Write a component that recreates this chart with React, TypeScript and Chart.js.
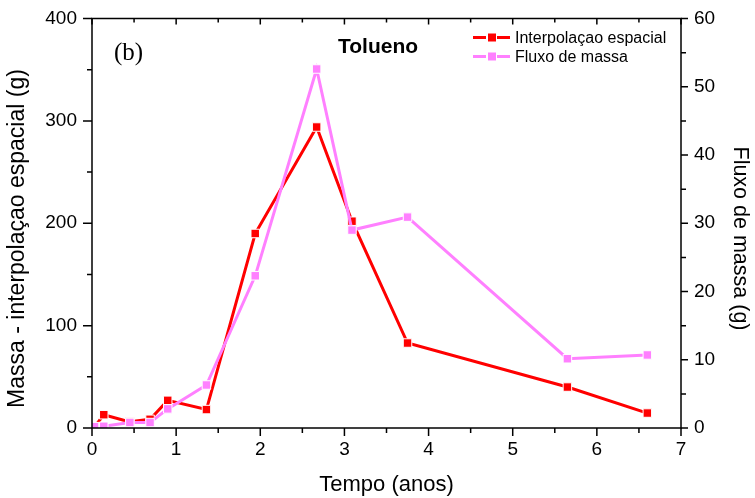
import { useEffect, useRef } from 'react';
import { Chart, registerables } from 'chart.js';

Chart.register(...registerables);

// Data
const tempoInterp = [0.03, 0.14, 0.45, 0.69, 0.9, 1.36, 1.94, 2.67, 3.09, 3.75, 5.65, 6.6];
const massaInterp = [1, 13, 6, 8.5, 27, 18, 190, 294, 202, 83, 40, 14.6];
const tempoFluxo = [0.03, 0.14, 0.45, 0.69, 0.9, 1.36, 1.94, 2.67, 3.09, 3.75, 5.65, 6.6];
const massaFluxo = [0.2, 0.25, 0.8, 0.8, 2.8, 6.3, 22.3, 52.6, 29.0, 30.9, 10.15, 10.7];

const xMajor = [0, 1, 2, 3, 4, 5, 6, 7];
const xMinor = [0.5, 1.5, 2.5, 3.5, 4.5, 5.5, 6.5];
const yMajor = [0, 100, 200, 300, 400];
const yMinor = [50, 150, 250, 350];
const y2Major = [0, 10, 20, 30, 40, 50, 60];
const y2Minor = [5, 15, 25, 35, 45, 55];

const labelInterp = 'Interpolaçao espacial';
const labelFluxo = 'Fluxo de massa';
const titleY = 'Massa - interpolaçao espacial (g)';
const titleY2 = 'Fluxo de massa (g)';
const RED = '#ff0000';
const PINK = '#ff80ff';
const SANS = '"Liberation Sans", Arial, sans-serif';

const framePlugin = {
  id: 'frameTicks',
  afterDraw(chart: any) {
    const { ctx, chartArea, scales } = chart;
    const { left, right, top, bottom } = chartArea;
    ctx.save();
    ctx.strokeStyle = '#000';
    ctx.lineWidth = 1.5;
    ctx.strokeRect(left, top, right - left, bottom - top);
    ctx.beginPath();
    xMajor.forEach((v) => {
      const px = scales.x.getPixelForValue(v);
      ctx.moveTo(px, bottom); ctx.lineTo(px, bottom + 8);
      ctx.moveTo(px, top); ctx.lineTo(px, top + 6);
    });
    xMinor.forEach((v) => {
      const px = scales.x.getPixelForValue(v);
      ctx.moveTo(px, bottom); ctx.lineTo(px, bottom + 5);
      ctx.moveTo(px, top); ctx.lineTo(px, top + 4);
    });
    yMajor.forEach((v) => {
      const py = scales.y.getPixelForValue(v);
      ctx.moveTo(left, py); ctx.lineTo(left - 9, py);
    });
    yMinor.forEach((v) => {
      const py = scales.y.getPixelForValue(v);
      ctx.moveTo(left, py); ctx.lineTo(left - 5, py);
    });
    y2Major.forEach((v) => {
      const py = scales.y2.getPixelForValue(v);
      ctx.moveTo(right, py); ctx.lineTo(right + 7, py);
    });
    y2Minor.forEach((v) => {
      const py = scales.y2.getPixelForValue(v);
      ctx.moveTo(right, py); ctx.lineTo(right + 5, py);
    });
    ctx.stroke();

    // axis titles (vertical)
    ctx.fillStyle = '#000';
    ctx.textAlign = 'center';
    ctx.textBaseline = 'middle';
    ctx.save();
    ctx.translate(18, 238.5);
    ctx.rotate(-Math.PI / 2);
    ctx.font = '23px ' + SANS;
    ctx.fillText(titleY, 0, 0);
    ctx.restore();
    ctx.save();
    ctx.translate(739.5, 238.5);
    ctx.rotate(Math.PI / 2);
    ctx.font = '21.5px ' + SANS;
    ctx.fillText(titleY2, 0, 0);
    ctx.restore();

    ctx.textBaseline = 'alphabetic';
    ctx.textAlign = 'left';
    ctx.font = '25px "Liberation Serif", "Times New Roman", serif';
    ctx.fillText('(b)', 114, 60);
    ctx.font = 'bold 21px ' + SANS;
    ctx.fillText('Tolueno', 338, 53);

    const items = [
      { label: labelInterp, color: RED, y: 37.5 },
      { label: labelFluxo, color: PINK, y: 56.5 },
    ];
    items.forEach((it) => {
      ctx.strokeStyle = it.color;
      ctx.lineWidth = 3;
      ctx.beginPath();
      ctx.moveTo(473, it.y); ctx.lineTo(486, it.y);
      ctx.moveTo(497, it.y); ctx.lineTo(510, it.y);
      ctx.stroke();
      ctx.fillStyle = it.color;
      ctx.fillRect(488, it.y - 4, 8, 8);
      ctx.fillStyle = '#000';
      ctx.font = '16px ' + SANS;
      ctx.textBaseline = 'middle';
      ctx.fillText(it.label, 515, it.y + 1);
    });
    ctx.restore();
  },
};

const fitV = (w: number) => (s: any) => {
  s.width = w;
  s.paddingTop = 0;
  s.paddingBottom = 0;
};

export default function App() {
  const ref = useRef<HTMLCanvasElement | null>(null);
  useEffect(() => {
    document.body.style.margin = '0';
    const chart = new Chart(ref.current as HTMLCanvasElement, {
      type: 'scatter',
      data: {
        datasets: [
          {
            label: labelInterp,
            data: tempoInterp.map((x, i) => ({ x, y: massaInterp[i] })),
            yAxisID: 'y',
            showLine: true,
            borderColor: RED,
            backgroundColor: RED,
            borderWidth: 3,
            pointStyle: 'rect',
            pointRadius: 6,
            pointBorderColor: '#ffffff',
            pointBorderWidth: 1,
            pointBackgroundColor: RED,
            order: 1,
          },
          {
            label: labelFluxo,
            data: tempoFluxo.map((x, i) => ({ x, y: massaFluxo[i] })),
            yAxisID: 'y2',
            showLine: true,
            borderColor: PINK,
            backgroundColor: PINK,
            borderWidth: 3,
            pointStyle: 'rect',
            pointRadius: 6,
            pointBorderColor: '#ffffff',
            pointBorderWidth: 1,
            pointBackgroundColor: PINK,
            order: 0,
          },
        ],
      },
      options: {
        responsive: false,
        animation: false,
        layout: { padding: { top: 18.5, left: 0, right: 0, bottom: 0 } },
        plugins: { legend: { display: false }, tooltip: { enabled: false } },
        scales: {
          x: {
            type: 'linear',
            min: 0,
            max: 7,
            afterFit: (s: any) => { s.height = 70; s.paddingLeft = 0; s.paddingRight = 0; },
            afterBuildTicks: (s: any) => { s.ticks = xMajor.map((v) => ({ value: v })); },
            grid: { display: false, drawTicks: false },
            border: { display: false },
            ticks: { color: '#000', font: { size: 19, family: SANS }, padding: 10, maxRotation: 0 },
            title: { display: true, text: 'Tempo (anos)', color: '#000', font: { size: 22, family: SANS }, padding: 0 },
          },
          y: {
            type: 'linear',
            position: 'left',
            min: 0,
            max: 400,
            afterFit: fitV(92),
            afterBuildTicks: (s: any) => { s.ticks = yMajor.map((v) => ({ value: v })); },
            grid: { display: false, drawTicks: false },
            border: { display: false },
            ticks: { color: '#000', font: { size: 19, family: SANS }, padding: 15 },
            title: { display: false, text: titleY },
          },
          y2: {
            type: 'linear',
            position: 'right',
            min: 0,
            max: 60,
            afterFit: fitV(74),
            afterBuildTicks: (s: any) => { s.ticks = y2Major.map((v) => ({ value: v })); },
            grid: { display: false, drawTicks: false },
            border: { display: false },
            ticks: { color: '#000', font: { size: 19, family: SANS }, padding: 13 },
            title: { display: false, text: titleY2 },
          },
        },
      },
      plugins: [framePlugin],
    } as any);
    return () => chart.destroy();
  }, []);
  return (
    <div style={{ position: 'absolute', left: 0, top: 0, width: 755, height: 498, background: '#fff' }}>
      <canvas ref={ref} width={755} height={498} style={{ display: 'block' }} />
    </div>
  );
}
